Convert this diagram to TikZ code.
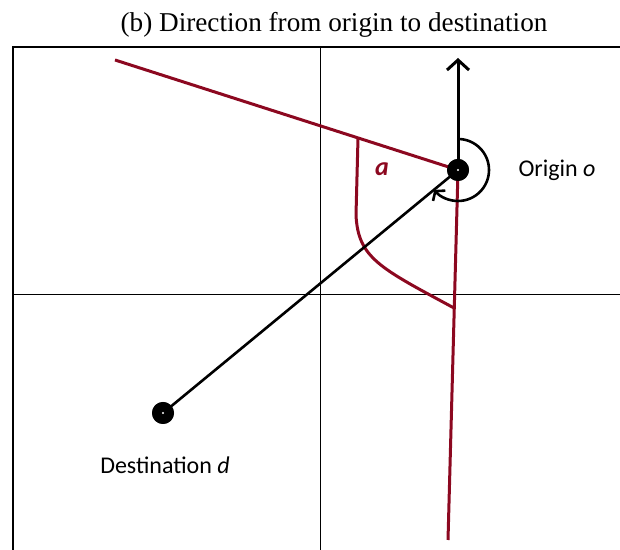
\documentclass[tikz,border=0pt]{standalone}
\usepackage{fontspec}
\setmainfont{Liberation Serif}
\newfontfamily\labelfont{Carlito}
\usetikzlibrary{arrows.meta}
\definecolor{darkred}{RGB}{140,8,32}

\begin{document}
\begin{tikzpicture}[x=0.5pt,y=0.5pt,
  redline/.style={draw,darkred,line width=1.5pt},
  dot/.style={circle,fill=black,inner sep=0pt,minimum size=11pt,
    path picture={\fill[white] (path picture bounding box.center) circle (0.6pt);}},
  lbl/.style={font=\labelfont\fontsize{12}{14}\selectfont}]
\useasboundingbox (0,0) rectangle (620,550);
% frame and axes
\coordinate (tl) at (13,503);
\coordinate (tr) at (620,503);
\coordinate (bl) at (13,0);
\coordinate (ax1) at (13,255);
\coordinate (ax2) at (620,255);
\coordinate (ay1) at (320,503);
\coordinate (ay2) at (320,0);
\path[draw,line width=0.8pt] (bl) -- (tl) -- (tr);
\path[draw,line width=0.5pt] (ax1) -- (ax2);
\path[draw,line width=0.5pt] (ay1) -- (ay2);
\node[font=\fontsize{13.6}{16}\selectfont] (title) at (334,525) {(b) Direction from origin to destination};
% points
\node[dot] (o) at (458,380) {};
\node[dot] (d) at (163,137) {};
\coordinate (n) at (458,492);
\coordinate (r1) at (115,490);
\coordinate (r2) at (448,10);
% red sector
\path[redline] (o.center) -- (r1);
\path[redline] (o.center) -- (r2);
\path[redline] (358,412) -- (356,335) .. controls (358,292) and (380,282) .. (454,242);
\node[darkred,lbl,font=\labelfont\fontsize{13}{14}\selectfont\bfseries\itshape] (a) at (382,381) {a};
% direction
\path[draw,line width=1.3pt] (d.center) -- (o.center);
\path[draw,line width=1.5pt,-{Straight Barb[length=5pt,width=11pt]}] (o.center) -- (n);
\path[draw,line width=1.3pt,-{Straight Barb[length=3pt,width=8pt]}] (o.center) ++(90:31) arc[start angle=90,end angle=-140,radius=31];
\node[dot] at (o) {};
\node[dot] at (d) {};
\node[lbl] (ol) at (557,380) {Origin \textit{o}};
\node[lbl] (dl) at (165,85) {Destination \textit{d}};
\end{tikzpicture}
\end{document}
